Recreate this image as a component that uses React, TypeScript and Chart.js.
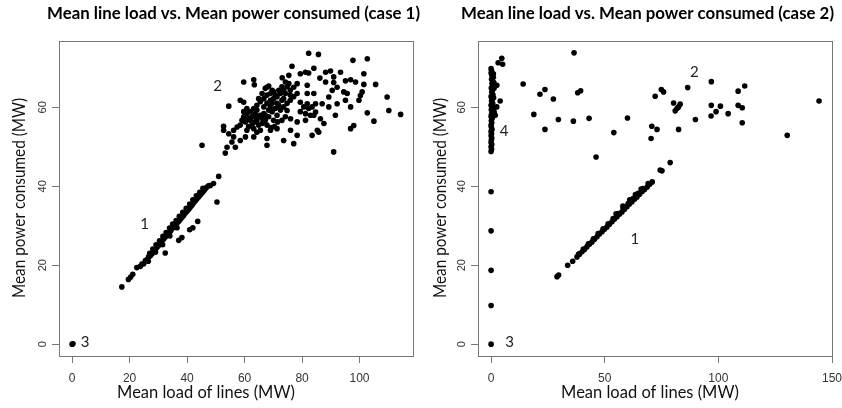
import { useEffect, useRef } from "react";
import { Chart, registerables } from "chart.js";

Chart.register(...registerables);

type P = [number, number];

// ---------- case 1 ----------
const case1Line: P[] = [
  [17.3, 14.5], [19.6, 16.4], [20.4, 17.0], [21.1, 17.7], [22.5, 19.4], [23.7, 19.7], [24.3, 20.3],
  [24.9, 20.4], [25.5, 21.2], [26.0, 21.4], [26.6, 22.1], [27.2, 22.4], [27.0, 23.0], [27.8, 22.9],
  [28.3, 23.4], [28.1, 24.1], [28.9, 24.0], [29.5, 24.5], [29.2, 25.2], [30.1, 25.0], [30.7, 25.5],
  [30.4, 26.2], [31.2, 26.1], [31.8, 26.6], [31.6, 27.3], [32.4, 27.1], [33.0, 27.6], [32.7, 28.3],
  [33.6, 28.1], [34.2, 28.6], [33.9, 29.4], [34.7, 29.2], [35.3, 29.6], [35.0, 30.4], [35.9, 30.1],
  [36.5, 30.6], [36.2, 31.3], [37.1, 31.1], [37.6, 31.6], [37.3, 32.4], [38.2, 32.1], [38.8, 32.6],
  [38.5, 33.4], [39.4, 33.2], [40.0, 33.7], [39.7, 34.4], [40.6, 34.2], [41.1, 34.7], [40.9, 35.5],
  [41.7, 35.2], [42.3, 35.8], [42.0, 36.6], [42.9, 36.3], [43.4, 36.8], [43.2, 37.6], [44.0, 37.3],
  [44.6, 37.8], [44.4, 38.5], [45.2, 38.3], [45.8, 38.8], [45.5, 39.5], [46.3, 39.3], [46.9, 39.8],
  [47.6, 40.2], [48.1, 40.2], [49.2, 40.7],
  [26.5, 21.0], [29.0, 23.3], [31.5, 25.2], [34.0, 27.4], [36.5, 29.5],
  [32.4, 23.1], [37.1, 26.3], [38.2, 27.0], [40.9, 29.0], [42.0, 29.5], [43.7, 31.1], [50.4, 36.0], [51.0, 42.5],
];

const case1Cloud: P[] = [
  [82.3, 73.7], [85.7, 73.4], [97.7, 71.9], [102.7, 72.3], [76.5, 70.4], [84.1, 69.9], [79.4, 68.5],
  [81.2, 68.9], [82.3, 68.7], [88.2, 68.9], [89.9, 69.2], [91.0, 67.7], [93.4, 68.9], [101.5, 68.5],
  [59.7, 66.4], [63.2, 67.0], [63.4, 65.7], [73.1, 67.5], [75.4, 68.1], [74.2, 66.4], [86.2, 67.4],
  [88.2, 66.4], [91.0, 66.3], [95.1, 66.7], [96.9, 67.0], [98.6, 66.4], [101.5, 65.8], [105.6, 65.8],
  [67.8, 65.1], [69.6, 64.3], [78.3, 66.0], [77.1, 65.1], [81.8, 65.6], [84.1, 63.5], [81.8, 63.5],
  [92.2, 65.1], [90.5, 64.3], [94.5, 63.9], [95.7, 63.5], [89.3, 62.6], [100.9, 63.9], [100.3, 63.0],
  [99.8, 61.8], [109.6, 62.6], [58.5, 61.8], [59.7, 61.3], [54.5, 60.3], [79.4, 61.3], [81.8, 60.9],
  [84.7, 60.9], [87.0, 60.9], [92.2, 60.9], [95.1, 61.8], [96.9, 60.1], [89.3, 60.1], [91.6, 58.0],
  [110.2, 59.2], [114.3, 58.2], [102.7, 58.6], [105.0, 56.5], [74.8, 59.2], [76.0, 57.1], [78.3, 56.3],
  [81.2, 56.7], [82.9, 58.0], [84.7, 58.8], [86.4, 57.1], [87.6, 55.9], [85.3, 54.2], [85.8, 53.7],
  [83.5, 52.9], [96.9, 54.6], [98.0, 55.4], [91.0, 48.7], [77.1, 50.8], [73.6, 51.6], [78.3, 52.9],
  [76.0, 54.2], [71.3, 54.6], [69.0, 54.2], [67.8, 52.1], [67.8, 50.4], [63.2, 52.5], [64.3, 53.7],
  [60.3, 52.5], [58.5, 51.6], [56.2, 52.5], [55.6, 51.2], [56.8, 49.9], [53.9, 49.9], [53.3, 48.4],
  [52.7, 54.2], [52.7, 55.2], [54.5, 53.3], [56.2, 54.2], [57.4, 55.0], [45.2, 50.4],
  [59.7, 57.6], [60.8, 58.4], [62.0, 56.7], [63.2, 57.6], [64.3, 59.3], [65.5, 58.0], [66.7, 60.1],
  [67.8, 61.0], [69.0, 61.8], [70.1, 62.2], [71.3, 62.7], [72.5, 63.5], [73.6, 64.3], [74.8, 65.2],
  [75.9, 64.3], [75.4, 66.0], [74.2, 63.5], [73.0, 61.8], [71.9, 60.5], [70.7, 59.7], [69.6, 58.9],
  [68.4, 57.6], [67.2, 56.7], [66.1, 55.9], [64.9, 55.5], [63.7, 56.3], [62.6, 55.5], [61.4, 55.1],
  [60.3, 56.3], [60.8, 54.2], [63.2, 54.6], [65.5, 54.2], [67.8, 55.5], [70.1, 56.7], [71.3, 58.0],
  [72.5, 59.3], [73.6, 60.1], [74.8, 61.0], [75.9, 61.8], [77.1, 62.7], [78.3, 63.5], [70.1, 63.9],
  [69.0, 63.5], [67.8, 63.1], [66.7, 62.2], [65.5, 61.4], [64.3, 60.5], [63.2, 59.7], [62.0, 58.9],
  [60.8, 59.7], [59.7, 58.9], [59.1, 56.7], [58.5, 55.5], [64.3, 56.7], [66.7, 58.4], [69.0, 60.1],
  [71.3, 61.0], [73.6, 62.2], [75.9, 63.1], [73.0, 65.2], [71.9, 64.3], [70.7, 63.1], [69.6, 61.0],
  [68.4, 59.3], [67.2, 58.0], [66.1, 57.2], [64.9, 57.6], [63.7, 58.4], [62.6, 57.6], [61.4, 57.2],
  [67.2, 64.8], [68.4, 65.4], [66.1, 63.5], [64.9, 62.2], [71.5, 56.3], [70.4, 55.1], [69.2, 54.9],
  [74.2, 57.6], [73.0, 56.7], [79.4, 58.9], [80.6, 60.1], [82.3, 59.7], [83.5, 60.1], [84.1, 58.0],
  [81.2, 58.4],
];

const case1Zero: P[] = [[0, 0], [0.3, 0.1]];

// ---------- case 2 ----------
const case2Line: P[] = [
  [29.0, 17.1], [29.7, 17.5], [33.7, 20.0], [35.9, 21.0],
  [37.8, 22.1], [38.9, 22.8], [40.0, 23.4], [41.1, 24.0], [42.2, 24.7], [43.3, 25.3], [44.4, 25.9],
  [45.5, 26.6], [46.6, 27.2], [47.7, 27.9], [48.8, 28.5], [49.9, 29.1], [51.0, 29.7], [52.1, 30.4],
  [53.2, 31.0], [54.3, 31.7], [55.4, 32.3], [56.5, 32.9], [57.6, 33.5], [58.7, 34.2], [59.8, 34.8],
  [60.9, 35.5], [62.0, 36.1], [63.1, 36.7], [64.2, 37.3], [65.3, 38.0], [66.4, 38.6], [67.5, 39.2],
  [68.7, 39.8], [69.8, 40.5], [70.9, 41.1],
  [38.5, 22.8], [40.6, 24.1], [42.8, 25.4], [45.0, 26.7], [47.1, 28.0], [49.3, 29.2], [51.5, 30.5],
  [53.7, 31.8], [55.9, 33.1], [58.1, 34.4], [60.3, 35.6], [62.5, 36.9], [64.7, 38.2], [66.9, 39.4],
  [69.1, 40.7], [55.0, 33.0], [58.0, 35.0], [61.0, 36.6], [63.5, 37.9], [66.0, 39.3],
  [74.4, 44.1], [75.2, 43.9], [78.8, 46.0],
];

const case2Cloud: P[] = [
  [36.5, 73.8], [14.1, 65.9], [21.5, 63.3], [23.7, 64.5], [27.4, 62.1], [18.8, 58.2], [23.7, 54.4],
  [29.6, 56.9], [36.2, 56.5], [38.1, 63.7], [39.4, 64.2], [43.1, 57.2], [46.2, 47.4], [54.0, 53.6],
  [60.0, 57.3], [70.4, 52.1], [70.7, 55.2], [73.0, 54.4], [72.2, 62.8], [74.9, 64.5], [75.9, 63.9],
  [80.3, 61.1], [83.2, 60.8], [81.8, 59.7], [81.0, 59.1], [82.5, 60.1], [82.5, 54.4], [86.5, 65.0],
  [89.9, 56.9], [96.9, 66.5], [96.9, 60.5], [99.0, 58.9], [100.9, 60.3], [96.8, 57.8], [104.3, 58.4],
  [108.7, 64.1], [111.6, 65.4], [108.7, 60.5], [110.5, 59.9], [110.5, 56.1], [130.3, 52.9], [144.3, 61.6],
];

const case2Strip: P[] = [
  [0, 48.8], [0.2, 49.4], [0, 50.0], [0.3, 50.6], [0, 51.1], [0.1, 51.7], [0.3, 52.2], [0, 52.8],
  [0.2, 53.3], [0, 53.9], [0.4, 54.4], [0.1, 55.0], [0, 55.5], [0.3, 56.1], [0.1, 56.6], [0.5, 57.2],
  [0, 57.7], [0.2, 58.3], [0.6, 58.8], [0.1, 59.4], [0.4, 59.9], [0, 60.5], [0.7, 61.0], [0.2, 61.6],
  [0.5, 62.1], [0, 62.7], [0.8, 63.2], [0.3, 63.8], [0.6, 64.3], [0.1, 64.9], [0.9, 65.4], [0.4, 66.0],
  [0.7, 66.5], [0.2, 67.1], [1.0, 67.6], [0.3, 68.2], [0, 68.7], [0.2, 69.3], [0, 69.8],
  [1.2, 66.3], [1.3, 64.8], [1.1, 62.4], [1.4, 58.6], [0.9, 60.0], [1.2, 59.0],
  [2.5, 65.6], [4.0, 61.6], [2.5, 60.1], [1.8, 58.0], [1.0, 68.5],
  [3.1, 71.3], [4.7, 72.4], [5.1, 70.9],
];

const case2Axis: P[] = [[0, 38.6], [0, 28.7], [0, 18.7], [0, 9.8], [0, 0]];

// ---------- ticks, labels, texts ----------
const case1XTicks = [0, 20, 40, 60, 80, 100];
const case2XTicks = [0, 50, 100, 150];
const yTicks = [0, 20, 40, 60];

const case1Labels = [
  { text: "1", x: 25.2, y: 30.5 },
  { text: "2", x: 50.6, y: 65.4 },
  { text: "3", x: 4.5, y: 0.6 },
];
const case2Labels = [
  { text: "1", x: 63.2, y: 26.5 },
  { text: "2", x: 89.4, y: 69.0 },
  { text: "3", x: 8.1, y: 0.4 },
  { text: "4", x: 5.7, y: 54.0 },
];

const titles = [
  "Mean line load vs. Mean power consumed (case 1)",
  "Mean line load vs. Mean power consumed (case 2)",
];
const xTitle = "Mean load of lines (MW)";
const yTitle = "Mean power consumed (MW)";

const FONT = "Lato, 'Open Sans', sans-serif";

type Panel = {
  title: string;
  series: P[][];
  labels: { text: string; x: number; y: number }[];
  xTicks: number[];
  xMin: number;
  xMax: number;
  yMin: number;
  yMax: number;
  axisW: number;
  padRight: number;
  titleX: number;
  xTitleX: number;
};

const panels: Panel[] = [
  {
    title: titles[0],
    series: [case1Line, case1Cloud, case1Zero],
    labels: case1Labels,
    xTicks: case1XTicks,
    xMin: -4.56,
    xMax: 118.6,
    yMin: -3.0,
    yMax: 76.8,
    axisW: 59,
    padRight: 8,
    titleX: 233.5,
    xTitleX: 206,
  },
  {
    title: titles[1],
    series: [case2Line, case2Cloud, case2Strip, case2Axis],
    labels: case2Labels,
    xTicks: case2XTicks,
    xMin: -5.76,
    xMax: 150,
    yMin: -3.0,
    yMax: 76.8,
    axisW: 57,
    padRight: 10,
    titleX: 226.5,
    xTitleX: 229,
  },
];

function makePlugin(p: Panel) {
  return {
    id: "rPlot",
    afterDraw(chart: any) {
      const { ctx, chartArea: a, scales } = chart;
      ctx.save();
      ctx.strokeStyle = "#777";
      ctx.lineWidth = 1;
      ctx.strokeRect(
        Math.round(a.left) + 0.5,
        Math.round(a.top) + 0.5,
        Math.round(a.right - a.left),
        Math.round(a.bottom - a.top)
      );
      ctx.fillStyle = "#000";
      ctx.textAlign = "center";
      ctx.textBaseline = "middle";
      ctx.font = `bold 17px ${FONT}`;
      ctx.fillText(p.title, p.titleX, 14, 373);
      ctx.fillStyle = "#111";
      ctx.font = `16.5px ${FONT}`;
      ctx.fillText(xTitle, p.xTitleX, 393, 178);
      ctx.save();
      ctx.translate(20, 198);
      ctx.rotate(-Math.PI / 2);
      ctx.fillText(yTitle, 0, 0, 200);
      ctx.restore();
      ctx.font = `15px ${FONT}`;
      ctx.fillStyle = "#222";
      p.labels.forEach((l) => {
        ctx.fillText(l.text, scales.x.getPixelForValue(l.x), scales.y.getPixelForValue(l.y));
      });
      ctx.restore();
    },
  };
}

function PanelChart({ p, left }: { p: Panel; left: number }) {
  const ref = useRef<HTMLCanvasElement | null>(null);
  useEffect(() => {
    if (!ref.current) return;
    const chart = new Chart(ref.current, {
      type: "scatter",
      data: {
        datasets: p.series.map((s) => ({
          data: s.map(([x, y]) => ({ x, y })),
          pointRadius: 2.8,
          pointBackgroundColor: "#000",
          pointBorderColor: "#000",
          pointBorderWidth: 0,
        })),
      },
      options: {
        animation: false,
        responsive: false,
        events: [],
        layout: { padding: { top: 41, left: 0, right: p.padRight, bottom: 0 } },
        plugins: { legend: { display: false }, tooltip: { enabled: false }, title: { display: false } },
        scales: {
          x: {
            type: "linear",
            min: p.xMin,
            max: p.xMax,
            afterBuildTicks: (s: any) => {
              s.ticks = p.xTicks.map((v) => ({ value: v }));
            },
            afterFit: (s: any) => {
              s.height = 52;
              s.paddingLeft = 0;
              s.paddingRight = 0;
            },
            grid: { drawOnChartArea: false, drawTicks: true, tickLength: 7, color: "#777" },
            border: { display: false },
            ticks: {
              color: "#333",
              font: { family: "'Liberation Sans', Arial, sans-serif", size: 12 },
              padding: 8,
              minRotation: 0,
              maxRotation: 0,
              autoSkip: false,
            },
          },
          y: {
            type: "linear",
            position: "left",
            min: p.yMin,
            max: p.yMax,
            afterBuildTicks: (s: any) => {
              s.ticks = yTicks.map((v) => ({ value: v }));
            },
            afterFit: (s: any) => {
              s.width = p.axisW;
              s.paddingTop = 0;
              s.paddingBottom = 0;
            },
            grid: { drawOnChartArea: false, drawTicks: true, tickLength: 7, color: "#777" },
            border: { display: false },
            ticks: {
              color: "#333",
              font: { family: "'Liberation Sans', Arial, sans-serif", size: 11 },
              padding: 3,
              minRotation: 90,
              maxRotation: 90,
              crossAlign: "center",
              autoSkip: false,
            },
          },
        },
      },
      plugins: [makePlugin(p)],
    } as any);
    return () => chart.destroy();
  }, [p]);
  return (
    <canvas
      ref={ref}
      width={421}
      height={408}
      style={{ position: "absolute", left, top: 0, width: 421, height: 408, display: "block" }}
    />
  );
}

export default function App() {
  return (
    <div style={{ position: "absolute", left: 0, top: 0, width: 842, height: 408, background: "#fff" }}>
      <PanelChart p={panels[0]} left={0} />
      <PanelChart p={panels[1]} left={421} />
    </div>
  );
}
